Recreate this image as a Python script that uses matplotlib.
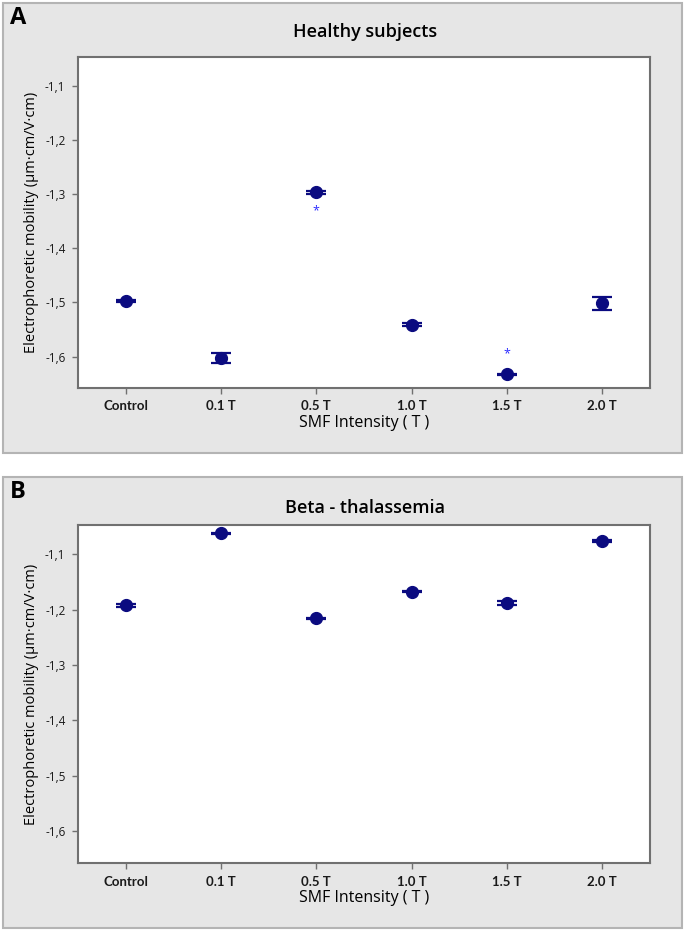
import matplotlib
matplotlib.use("Agg")
import matplotlib.pyplot as plt
from matplotlib.patches import Rectangle

plt.rcParams['font.family'] = ['Open Sans', 'DejaVu Sans']

groups = ["Control", "0.1 T", "0.5 T", "1.0 T", "1.5 T", "2.0 T"]

healthy_mean = [-1.498, -1.602, -1.297, -1.541, -1.633, -1.502]
healthy_err = [0.002, 0.009, 0.0035, 0.003, 0.001, 0.0125]
healthy_star = [None, None, -1.331, None, -1.594, None]

thal_mean = [-1.192, -1.062, -1.216, -1.168, -1.188, -1.076]
thal_err = [0.003, 0.001, 0.001, 0.001, 0.004, 0.002]

yticks = [-1.1, -1.2, -1.3, -1.4, -1.5, -1.6]
ytick_labels = ["-1,1", "-1,2", "-1,3", "-1,4", "-1,5", "-1,6"]

W, H = 685, 931
fig = plt.figure(figsize=(W / 100, H / 100), dpi=100)

navy = "#0b0b80"
grey = "#707070"


def panel(box, ax_rect, letter, title, title_y, xlabel_y, means, errs, stars=None):
    x0, y0, x1, y1 = box
    fig.patches.append(Rectangle((x0 / W, 1 - y1 / H), (x1 - x0) / W, (y1 - y0) / H,
                                 transform=fig.transFigure, facecolor="#e6e6e6",
                                 edgecolor="#b4b4b4", linewidth=1.5, zorder=-5))
    l, t, r, b = ax_rect
    ax = fig.add_axes([l / W, 1 - b / H, (r - l) / W, (b - t) / H])
    ax.set_zorder(5)
    ax.set_facecolor("white")
    xs = list(range(len(groups)))
    ax.errorbar(xs, means, yerr=errs, fmt="o", color=navy, ms=8.5, capsize=7.5,
                elinewidth=1.5, capthick=1.6, zorder=3)
    if stars:
        for x, s in zip(xs, stars):
            if s is not None:
                ax.text(x, s, "*", color="#2a2aff", ha="center", va="center", fontsize=9)
    ax.set_xlim(-0.5, 5.5)
    ax.set_ylim(-1.658, -1.047)
    ax.set_xticks(xs)
    ax.set_xticklabels(groups, fontsize=9.5, fontweight="bold", family=["Lato", "DejaVu Sans"])
    ax.set_yticks(yticks)
    ax.set_yticklabels(ytick_labels, fontsize=8.5)
    ax.tick_params(colors="#1a1a1a", length=4, width=1, pad=5)
    ax.tick_params(axis="both", color=grey)
    for sp in ax.spines.values():
        sp.set_color(grey)
        sp.set_linewidth(1.5)
    ax.set_ylabel("Electrophoretic mobility (µm·cm/V·cm)", fontsize=10.5, labelpad=4)
    fig.text(0.5 * (l + r) / W, 1 - xlabel_y / H, "SMF Intensity ( T )", fontsize=11.5,
             ha="center", va="center")
    fig.text(0.5 * (l + r) / W + 0.002, 1 - title_y / H, title, fontsize=13,
             fontweight="semibold", ha="center", va="center")
    fig.text(10 / W, 1 - (y0 + 15) / H, letter, fontsize=17, fontweight="bold",
             ha="left", va="center")
    return ax


panel((3, 3, 682, 453), (78, 57, 650, 388), "A", "Healthy subjects", 32, 423,
      healthy_mean, healthy_err, healthy_star)
panel((3, 477, 682, 928), (78, 525, 650, 863), "B", "Beta - thalassemia", 508, 898,
      thal_mean, thal_err)

fig.savefig("out.png", dpi=100, facecolor="white")
